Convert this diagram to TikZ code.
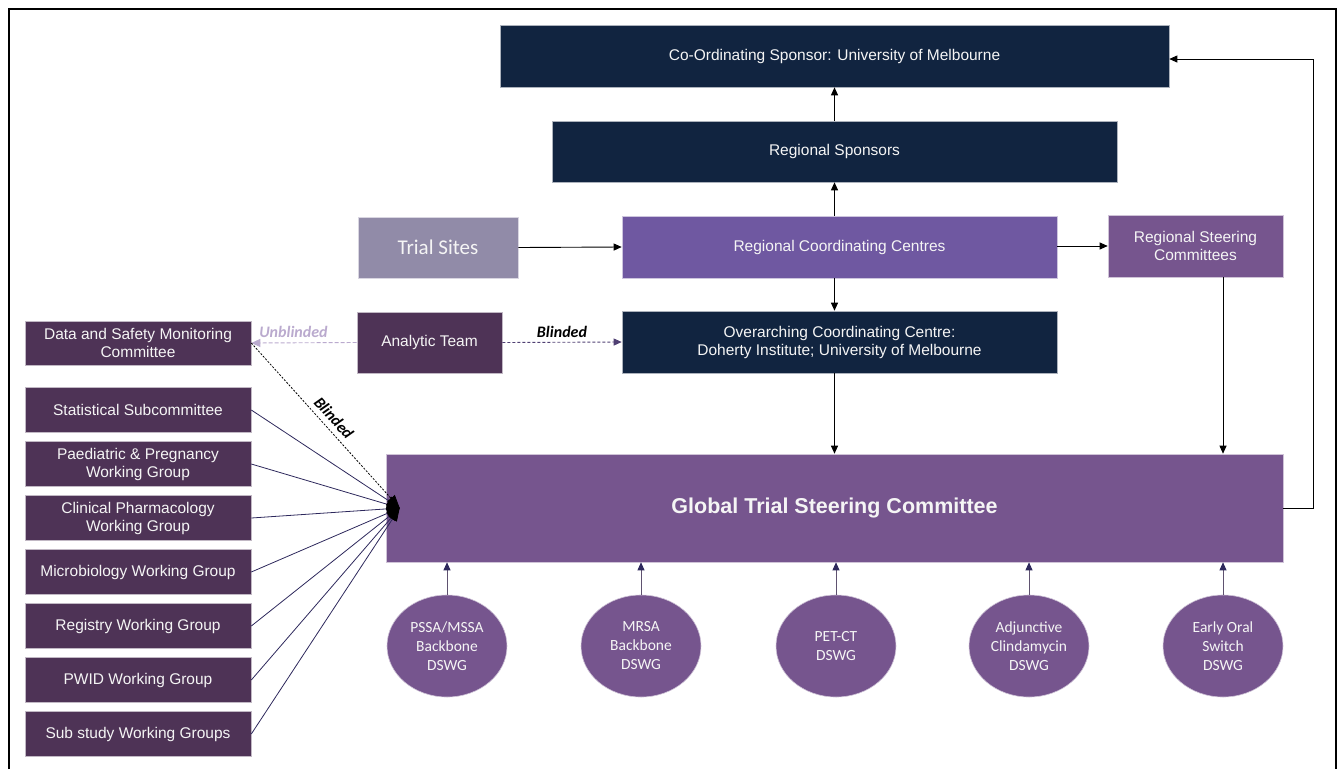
\documentclass[tikz,border=0pt]{standalone}
\usepackage{fontspec}
\setmainfont{Liberation Sans}
\newfontfamily\calib{Carlito}
\usetikzlibrary{arrows.meta,shapes.geometric}

\definecolor{navy}{RGB}{17,36,64}
\definecolor{plum}{RGB}{78,51,86}
\definecolor{violet}{RGB}{111,88,161}
\definecolor{mauve}{RGB}{118,85,142}
\definecolor{lilac}{RGB}{145,139,168}
\definecolor{wgline}{RGB}{45,40,92}
\definecolor{blindline}{RGB}{80,64,115}
\definecolor{unblind}{RGB}{186,170,206}
\definecolor{stemline}{RGB}{95,82,112}

\tikzset{
  box/.style={rectangle, fill=#1, draw=white!65!#1, line width=0.6pt, inner sep=0pt,
    text=white!96!black, align=center, font=\fontsize{15.5}{18}\selectfont},
  dswg/.style={ellipse, fill=mauve, draw=white!65!mauve, line width=0.6pt, inner sep=0pt,
    minimum width=120pt, minimum height=102pt, text=white!96!black, align=center,
    font=\calib\fontsize{15.5}{19}\selectfont},
  arr/.style={-{Triangle[length=8pt,width=7pt]}, line width=0.9pt},
  wg/.style={-{Triangle[length=13pt,width=10pt,color=black]}, wgline, line width=0.8pt},
  stem/.style={-{Triangle[length=8pt,width=7pt,color=wgline]}, stemline, line width=0.9pt},
  tag/.style={font=\calib\bfseries\itshape\fontsize{16}{18}\selectfont},
}

\begin{document}
\begin{tikzpicture}[x=1pt,y=-1pt]
\useasboundingbox (0,0) rectangle (1339,769);
% outer frame
\draw[line width=2.2pt] (9,769) -- (9,9) -- (1336,9) -- (1336,769);

% sponsor chain
\node[box=navy, minimum width=669pt, minimum height=62pt] (sponsor) at (834.5,56)
  {Co-Ordinating Sponsor: University of Melbourne};
\node[box=navy, minimum width=565pt, minimum height=61pt] (regsp) at (834.5,151.5)
  {Regional Sponsors};
\node[box=lilac, minimum width=160pt, minimum height=61pt, font=\calib\fontsize{21}{24}\selectfont]
  (sites) at (438,247.5) {Trial Sites};
\node[box=violet, minimum width=435pt, minimum height=62pt] (rcc) at (839.5,247)
  {Regional Coordinating Centres};
\node[box=mauve, minimum width=175pt, minimum height=62pt] (rsc) at (1195.5,246)
  {Regional Steering\\Committees};

% data monitoring row
\node[box=plum, minimum width=226pt, minimum height=44pt] (dsmc) at (138,343)
  {Data and Safety Monitoring\\Committee};
\node[box=plum, minimum width=145pt, minimum height=61pt] (analytic) at (429.5,342.5)
  {Analytic Team};
\node[box=navy, minimum width=435pt, minimum height=62pt] (occ) at (839.5,342)
  {Overarching Coordinating Centre:\\Doherty Institute; University of Melbourne};

% steering committee
\node[box=mauve, minimum width=897pt, minimum height=108pt,
  font=\bfseries\fontsize{21.5}{24}\selectfont] (gtsc) at (834.5,508)
  {Global Trial Steering Committee};
\coordinate (hub) at ([xshift=14pt]gtsc.west);

% working groups on the left
\foreach \name/\txt [count=\i from 0] in {
    stat/Statistical Subcommittee,
    paed/{Paediatric \& Pregnancy\\Working Group},
    pharm/{Clinical Pharmacology\\Working Group},
    micro/Microbiology Working Group,
    reg/Registry Working Group,
    pwid/PWID Working Group,
    sub/Sub study Working Groups}
  \node[box=plum, minimum width=226pt, minimum height=45pt] (\name) at (138,{410+54*\i}) {\txt};

% disease specific working groups
\node[dswg] (c1) at (447,646) {PSSA/MSSA\\Backbone\\DSWG};
\node[dswg] (c2) at (641,646) {MRSA\\Backbone\\DSWG};
\node[dswg] (c3) at (836,646) {PET-CT\\DSWG};
\node[dswg] (c4) at (1029,646) {Adjunctive\\Clindamycin\\DSWG};
\node[dswg] (c5) at (1223,646) {Early Oral\\Switch\\DSWG};

% reporting lines
\draw[arr] (regsp.north) -- (sponsor.south);
\draw[arr] (rcc.north -| regsp) -- (regsp.south);
\draw[arr] (sites.east) -- (rcc.west);
\draw[arr] (rcc.east |- rsc) -- (rsc.west);
\draw[arr] (rcc.south -| gtsc) -- (occ.north -| gtsc);
\draw[arr] (occ.south -| gtsc) -- (gtsc.north);
\draw[arr] (rsc.south -| c5) -- (gtsc.north -| c5);
\draw[arr] (gtsc.east) -- ++(30,0) |- ([yshift=-3pt]sponsor.east);

% blinded / unblinded data flow
\draw[-{Triangle[length=8pt,width=7pt]}, blindline, line width=0.9pt, dash pattern=on 3pt off 2pt]
  (analytic.east) -- node[tag, above=1pt, black] {Blinded} (occ.west);
\draw[-{Triangle[length=9pt,width=8pt]}, unblind, line width=0.9pt, dash pattern=on 4pt off 2pt]
  (analytic.west) -- node[tag, above=1pt, pos=0.6] {Unblinded} (dsmc.east);
\draw[-{Triangle[length=13pt,width=10pt]}, line width=0.8pt, dash pattern=on 2pt off 1.5pt]
  (dsmc.east) -- node[tag, sloped, above=2pt, pos=0.5] {Blinded} (hub);

\foreach \name in {stat,paed,pharm,micro,reg,pwid,sub}
  \draw[wg] (\name.east) -- (hub);

\foreach \c in {c1,c2,c3,c4,c5}
  \draw[stem] (\c.north) -- (\c.north |- gtsc.south);
\end{tikzpicture}
\end{document}
